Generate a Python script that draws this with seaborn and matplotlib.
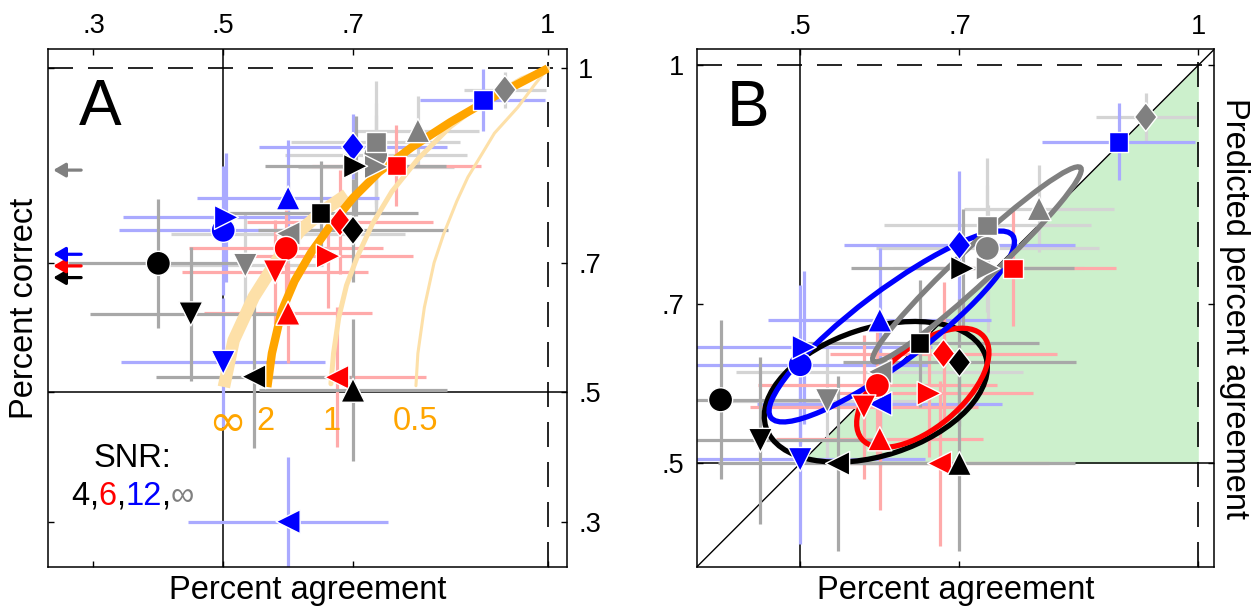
import pandas as pd
import seaborn as sns
import matplotlib.pyplot as plt
from matplotlib.patches import Ellipse
from matplotlib.offsetbox import TextArea, HPacker, AnnotationBbox

# marker order in every list: circle, down, up, left, right, square, diamond
shapes = ['o', 'v', '^', '<', '>', 's', 'D']
snr_levels = ['inf', '12', '6', '4']   # draw order (black ends on top)

# percent agreement (x, shared by A and B)
agree_4 = [0.40, 0.45, 0.70, 0.547, 0.704, 0.65, 0.70]
agree_6 = [0.597, 0.58, 0.60, 0.675, 0.662, 0.767, 0.68]
agree_12 = [0.50, 0.50, 0.60, 0.60, 0.505, 0.90, 0.70]
agree_inf = [0.735, 0.534, 0.80, 0.60, 0.736, 0.735, 0.934]

# percent correct (panel A)
correct_4 = [0.699, 0.621, 0.503, 0.524, 0.849, 0.777, 0.75]
correct_6 = [0.722, 0.686, 0.622, 0.523, 0.71, 0.85, 0.763]
correct_12 = [0.75, 0.546, 0.80, 0.30, 0.77, 0.951, 0.879]
correct_inf = [0.866, 0.696, 0.904, 0.745, 0.848, 0.886, 0.967]

# predicted percent agreement (panel B)
pred_4 = [0.58, 0.529, 0.50, 0.50, 0.745, 0.651, 0.627]
pred_6 = [0.598, 0.571, 0.531, 0.50, 0.588, 0.745, 0.638]
pred_12 = [0.624, 0.505, 0.68, 0.575, 0.646, 0.904, 0.774]
pred_inf = [0.77, 0.579, 0.82, 0.615, 0.745, 0.799, 0.935]

# error bar half widths
xerr_4 = [0.14, 0.155, 0.145, 0.15, 0.14, 0.15, 0.146]
xerr_6 = [0.15, 0.143, 0.13, 0.138, 0.13, 0.13, 0.143]
xerr_12 = [0.16, 0.157, 0.14, 0.154, 0.16, 0.096, 0.145]
xerr_inf = [0.14, 0.12, 0.094, 0.18, 0.12, 0.13, 0.063]
yerr_a_4 = [0.10, 0.103, 0.11, 0.11, 0.077, 0.08, 0.08]
yerr_a_6 = [0.08, 0.08, 0.077, 0.108, 0.08, 0.062, 0.08]
yerr_a_12 = [0.10, 0.10, 0.09, 0.10, 0.10, 0.048, 0.05]
yerr_a_inf = [0.08, 0.08, 0.054, 0.08, 0.08, 0.095, 0.028]
yerr_b_4 = [0.10, 0.105, 0.11, 0.11, 0.075, 0.08, 0.08]
yerr_b_6 = [0.09, 0.09, 0.09, 0.104, 0.08, 0.073, 0.09]
yerr_b_12 = [0.10, 0.106, 0.09, 0.08, 0.096, 0.048, 0.093]
yerr_b_inf = [0.08, 0.075, 0.055, 0.08, 0.08, 0.085, 0.03]

# model curves in panel A (label: SNR of the curve)
curve_inf_x = [0.501, 0.516, 0.547, 0.583, 0.619, 0.655, 0.69]
curve_inf_y = [0.508, 0.58, 0.647, 0.704, 0.75, 0.781, 0.805]
curve_2_x = [0.568, 0.575, 0.59, 0.61, 0.635, 0.665, 0.70, 0.74, 0.79, 0.85, 0.92, 1.0]
curve_2_y = [0.508, 0.56, 0.625, 0.672, 0.715, 0.757, 0.80, 0.84, 0.878, 0.917, 0.958, 1.0]
curve_1_x = [0.666, 0.670, 0.678, 0.69, 0.707, 0.73, 0.76, 0.80, 0.85, 0.91, 0.96, 1.0]
curve_1_y = [0.513, 0.56, 0.615, 0.665, 0.71, 0.76, 0.81, 0.86, 0.91, 0.955, 0.984, 1.0]
curve_05_x = [0.797, 0.80, 0.81, 0.825, 0.84, 0.86, 0.877, 0.90, 0.918, 0.954, 0.98, 1.0]
curve_05_y = [0.51, 0.56, 0.631, 0.70, 0.745, 0.795, 0.832, 0.87, 0.90, 0.94, 0.975, 1.0]
curve_labels = ['\u221e', '2', '1', '0.5']
curve_label_x = [0.506, 0.565, 0.667, 0.796]

# percent correct of each SNR (arrows at left of A)
arrow_snr = ['4', '6', '12', 'inf']
arrow_y = [0.677, 0.695, 0.713, 0.843]

# confidence ellipses in B: centre x, centre y, semi axes, angle
ell_snr = ['4', '6', '12', 'inf']
ell_cx = [0.595, 0.654, 0.615, 0.722]
ell_cy = [0.59, 0.595, 0.672, 0.75]
ell_a = [0.145, 0.10, 0.19, 0.178]
ell_b = [0.08, 0.05, 0.045, 0.022]
ell_ang = [18, 40, 37, 43]

colors = {'4': 'black', '6': '#FF0000', '12': '#0000FF', 'inf': '#808080'}
light = {'4': '#A8A8A8', '6': '#FFAAAA', '12': '#AAAAFF', 'inf': '#D4D4D4'}
orange = '#FFA500'
pale = '#FDE0A8'

agree = {'4': agree_4, '6': agree_6, '12': agree_12, 'inf': agree_inf}
correct = {'4': correct_4, '6': correct_6, '12': correct_12, 'inf': correct_inf}
pred = {'4': pred_4, '6': pred_6, '12': pred_12, 'inf': pred_inf}
xerr = {'4': xerr_4, '6': xerr_6, '12': xerr_12, 'inf': xerr_inf}
yerr_a = {'4': yerr_a_4, '6': yerr_a_6, '12': yerr_a_12, 'inf': yerr_a_inf}
yerr_b = {'4': yerr_b_4, '6': yerr_b_6, '12': yerr_b_12, 'inf': yerr_b_inf}

rows = []
for snr in snr_levels:
    for i, shp in enumerate(shapes):
        rows.append(dict(snr=snr, shape=shp, agree=agree[snr][i],
                         correct=correct[snr][i], pred=pred[snr][i]))
df = pd.DataFrame(rows)

sns.set_style('ticks')
plt.rcParams['font.family'] = ['Liberation Sans', 'DejaVu Sans']
plt.rcParams.update({'axes.linewidth': 1.1, 'axes.edgecolor': 'black',
                     'text.color': 'black', 'axes.labelcolor': 'black',
                     'xtick.color': 'black', 'ytick.color': 'black'})

LABEL = 23.5
TICK = 19.5

diamond = [(0, 1), (0.78, 0), (0, -1), (-0.78, 0), (0, 1)]
marker_map = {'o': 'o', 'v': 'v', '^': '^', '<': '<', '>': '>', 's': 's', 'D': diamond}
size_map = {'o': 300, 'v': 300, '^': 300, '<': 300, '>': 300, 's': 200, 'D': 430}

fig = plt.figure(figsize=(12.58, 6.12), dpi=100)
ax_a = fig.add_axes([0.0382, 0.0735, 0.4126, 0.8464])
ax_b = fig.add_axes([0.5538, 0.0735, 0.4114, 0.8459])

dash = (0, (15, 9))


def draw_points(ax, ycol, yerr):
    for snr in snr_levels:
        ax.errorbar(agree[snr], df.loc[df.snr == snr, ycol], xerr=xerr[snr], yerr=yerr[snr],
                    fmt='none', ecolor=light[snr], elinewidth=2.3, capsize=0, zorder=2)
    sns.scatterplot(data=df, x='agree', y=ycol, hue='snr', style='shape', size='shape',
                    palette=colors, markers=marker_map, sizes=size_map,
                    edgecolor='white', linewidth=1, legend=False, ax=ax, zorder=5)


# ---------- panel A ----------
ax = ax_a
ax.set_xlim(0.23, 1.03)
ax.set_ylim(0.23, 1.03)
ax.axvline(0.5, color='black', lw=1.1, zorder=1)
ax.axhline(0.5, color='black', lw=1.1, zorder=1)
ax.axvline(1.0, color='black', lw=1.2, ls=dash, zorder=1)
ax.axhline(1.0, color='black', lw=1.2, ls=dash, zorder=1)

draw_points(ax, 'correct', yerr_a)

sns.lineplot(x=curve_05_x, y=curve_05_y, sort=False, color=pale, lw=2.2, ax=ax, zorder=3)
sns.lineplot(x=curve_1_x, y=curve_1_y, sort=False, color=pale, lw=3.6, ax=ax, zorder=3)
sns.lineplot(x=curve_inf_x, y=curve_inf_y, sort=False, color=pale, lw=9, ax=ax, zorder=3,
             solid_capstyle='butt')
sns.lineplot(x=curve_2_x, y=curve_2_y, sort=False, color=orange, lw=6, ax=ax, zorder=3,
             solid_capstyle='butt')
for lab, lx in zip(curve_labels, curve_label_x):
    if lab == '\u221e':
        ax.text(lx, 0.452, lab, color=orange, fontsize=33, ha='center', va='center',
                family=['DejaVu Sans'])
    else:
        ax.text(lx, 0.455, lab, color=orange, fontsize=LABEL, ha='center', va='center')

for snr, ay in zip(arrow_snr, arrow_y):
    ax.annotate('', xy=(0.238, ay), xytext=(0.281, ay),
                arrowprops=dict(arrowstyle='-|>,head_length=0.6,head_width=0.35',
                                color=colors[snr], lw=2.3, mutation_scale=12,
                                shrinkA=0, shrinkB=0))

ax.text(0.311, 0.912, 'A', fontsize=46, ha='center', va='baseline')
ax.text(0.36, 0.398, 'SNR:', fontsize=LABEL, ha='center', va='center')
pieces = [('4', colors['4']), (',', 'black'), ('6', colors['6']), (',', 'black'),
          ('12', colors['12']), (',', 'black'), ('\u221e', colors['inf'])]
box = HPacker(children=[TextArea(t, textprops=dict(color=c, fontsize=LABEL)) for t, c in pieces],
              align='baseline', pad=0, sep=0)
ax.add_artist(AnnotationBbox(box, (0.36, 0.339), xycoords='data', frameon=False,
                             box_alignment=(0.5, 0.5)))

ax.set_xticks([0.3, 0.5, 0.7, 1.0], ['.3', '.5', '.7', '1'])
ax.set_yticks([0.3, 0.5, 0.7, 1.0], ['.3', '.5', '.7', '1'])
ax.tick_params(axis='x', top=True, bottom=True, labeltop=True, labelbottom=False,
               direction='in', length=4, width=1, labelsize=TICK, pad=7)
ax.tick_params(axis='y', left=True, right=True, labelleft=False, labelright=True,
               direction='in', length=4, width=1, labelsize=TICK, pad=8)
ax.set_xlabel('Percent agreement', fontsize=LABEL, labelpad=6)
ax.xaxis.set_label_position('bottom')
ax.set_ylabel('Percent correct', fontsize=LABEL, labelpad=6)

# ---------- panel B ----------
ax = ax_b
ax.set_xlim(0.37, 1.02)
ax.set_ylim(0.37, 1.02)
ax.fill_between([0.5, 1.0], [0.5, 0.5], [0.5, 1.0], color='#CCF0CC', lw=0, zorder=0)
ax.axline((0.5, 0.5), (1.0, 1.0), color='black', lw=1.0, zorder=1)
ax.axvline(0.5, color='black', lw=1.1, zorder=1)
ax.axhline(0.5, color='black', lw=1.1, zorder=1)
ax.axvline(1.0, color='black', lw=1.2, ls=dash, zorder=1)
ax.axhline(1.0, color='black', lw=1.2, ls=dash, zorder=1)

draw_points(ax, 'pred', yerr_b)

for snr, cx, cy, a, b, ang in zip(ell_snr, ell_cx, ell_cy, ell_a, ell_b, ell_ang):
    ax.add_patch(Ellipse((cx, cy), 2 * a, 2 * b, angle=ang, fill=False,
                         edgecolor=colors[snr], lw=3.8, zorder=4))

ax.text(0.435, 0.924, 'B', fontsize=46, ha='center', va='baseline')

ax.set_xticks([0.5, 0.7, 1.0], ['.5', '.7', '1'])
ax.set_yticks([0.5, 0.7, 1.0], ['.5', '.7', '1'])
ax.tick_params(axis='x', top=True, bottom=True, labeltop=True, labelbottom=False,
               direction='in', length=4, width=1, labelsize=TICK, pad=7)
ax.tick_params(axis='y', left=True, right=True, labelleft=True, labelright=False,
               direction='in', length=4, width=1, labelsize=TICK, pad=9)
ax.set_xlabel('Percent agreement', fontsize=LABEL, labelpad=6)
ax.xaxis.set_label_position('bottom')
ax.set_ylabel('Predicted percent agreement', fontsize=LABEL, rotation=270, labelpad=26)
ax.yaxis.set_label_position('right')

fig.savefig('out.png', dpi=100)
